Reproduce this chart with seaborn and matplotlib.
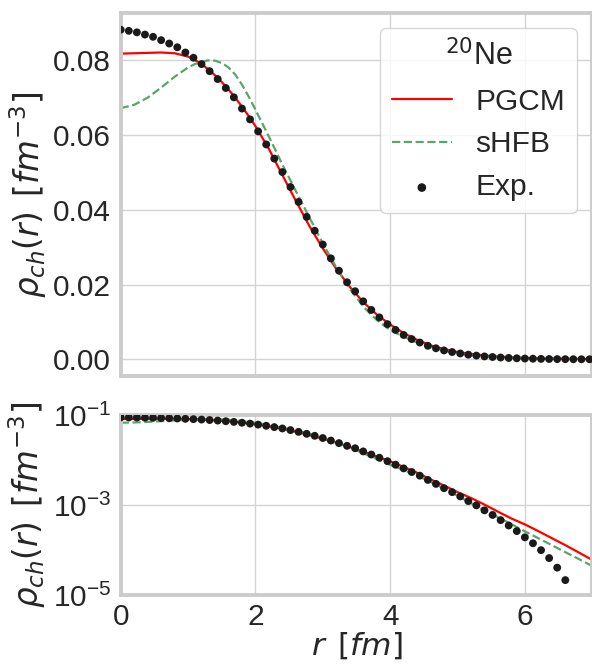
import numpy as np
import pandas as pd
import matplotlib
matplotlib.use("Agg")
import matplotlib.pyplot as plt
import seaborn as sns

# ---------------- data ----------------
r_th = [0.0, 0.2, 0.4, 0.6, 0.8, 1.0, 1.1, 1.2, 1.3, 1.4, 1.5, 1.6, 1.7, 1.8, 1.9,
        2.0, 2.2, 2.4, 2.6, 2.8, 3.0, 3.2, 3.4, 3.6, 3.8, 4.0, 4.2, 4.4, 4.6, 4.8,
        5.0, 5.2, 5.4, 5.6, 5.8, 6.0, 6.2, 6.4, 6.6, 6.8, 7.0]

pgcm = [0.0818, 0.0819, 0.0820, 0.0821, 0.0819, 0.0810, 0.0801, 0.0790, 0.0776, 0.0760,
        0.0742, 0.0722, 0.0700, 0.0676, 0.0651, 0.0624, 0.0563, 0.0493, 0.0424, 0.0357,
        0.0297, 0.0242, 0.0194, 0.0153, 0.0120, 0.0093, 0.0070, 0.0052, 0.00371, 0.00270,
        0.00193, 0.00143, 0.00102, 0.00071, 0.00050, 0.00037, 0.000262, 0.000183,
        0.000128, 0.000088, 0.000060]

shfb = [0.0672, 0.0681, 0.0700, 0.0727, 0.0756, 0.0781, 0.0790, 0.0796, 0.0800, 0.0799,
        0.0793, 0.0781, 0.0762, 0.0735, 0.0703, 0.0668, 0.0596, 0.0521, 0.0450, 0.0380,
        0.0310, 0.0246, 0.0189, 0.0141, 0.0105, 0.0078, 0.0060, 0.00448, 0.00325, 0.00232,
        0.00160, 0.00110, 0.00076, 0.000535, 0.000375, 0.000259, 0.000182, 0.000128,
        0.0000895, 0.000063, 0.000044]

r_exp = [0.00, 0.12, 0.24, 0.36, 0.48, 0.60, 0.72, 0.84, 0.96, 1.08, 1.20, 1.32, 1.44,
         1.56, 1.68, 1.80, 1.92, 2.04, 2.16, 2.28, 2.40, 2.52, 2.64, 2.76, 2.88, 3.00,
         3.12, 3.24, 3.36, 3.48, 3.60, 3.72, 3.84, 3.96, 4.08, 4.20, 4.32, 4.44, 4.56,
         4.68, 4.80, 4.92, 5.04, 5.16, 5.28, 5.40, 5.52, 5.64, 5.76, 5.88, 6.00, 6.12,
         6.24, 6.36, 6.48, 6.60, 6.72, 6.84, 6.96]

exp = [0.0882, 0.0879, 0.0875, 0.0869, 0.0863, 0.0854, 0.0845, 0.0835, 0.0821, 0.0807,
       0.0790, 0.0771, 0.0750, 0.0726, 0.0701, 0.0671, 0.0642, 0.0610, 0.0575, 0.0537,
       0.0501, 0.0461, 0.0421, 0.0381, 0.0344, 0.0307, 0.0270, 0.0237, 0.0206, 0.0182,
       0.0155, 0.0132, 0.0112, 0.0094, 0.00785, 0.0065, 0.0054, 0.00448, 0.00360,
       0.00294, 0.00236, 0.00193, 0.00155, 0.00122, 0.00098, 0.00076, 0.00060, 0.00046,
       0.00035, 0.000263, 0.000191, 0.000141, 0.0000991, 0.0000661, 0.0000405,
       0.0000214, 0.000008, 0.000003, 0.000001]

log_ticks = [1e-5, 1e-3, 1e-1]
x_ticks = [0, 2, 4, 6]

# ---------------- style ----------------
sns.set_style("whitegrid")
plt.rcParams["font.family"] = ["Liberation Sans", "DejaVu Sans"]
plt.rcParams["axes.edgecolor"] = ".8"
plt.rcParams["axes.linewidth"] = 2.8
plt.rcParams["grid.color"] = ".83"
plt.rcParams["grid.linewidth"] = 1.0
plt.rcParams["text.color"] = ".15"
plt.rcParams["axes.labelcolor"] = ".15"
plt.rcParams["xtick.color"] = ".15"
plt.rcParams["ytick.color"] = ".15"

fig = plt.figure(figsize=(5.92, 6.65), dpi=100)
ax1 = fig.add_axes([0.2039, 0.4350, 0.7965, 0.5451])
ax2 = fig.add_axes([0.2039, 0.1053, 0.7965, 0.2707], sharex=ax1)

df_th = pd.DataFrame({"r": r_th, "PGCM": pgcm, "sHFB": shfb})
df_exp = pd.DataFrame({"r": r_exp, "Exp.": exp})

for ax in (ax1, ax2):
    sns.lineplot(data=df_th, x="r", y="PGCM", ax=ax, color="red", lw=1.6,
                 label="PGCM", legend=False, zorder=2)
    sns.lineplot(data=df_th, x="r", y="sHFB", ax=ax, color="#55a868", lw=1.6,
                 linestyle="--", label="sHFB", legend=False, zorder=2)
    sns.scatterplot(data=df_exp, x="r", y="Exp.", ax=ax, color="#1a1a1a", s=32,
                    edgecolor="none", label="Exp.", legend=False, zorder=3)
    ax.tick_params(axis="y", labelsize=21.5, pad=7, length=0)
    ax.tick_params(axis="x", labelsize=21.5, pad=5.5, length=0)
    for sp in ax.spines.values():
        sp.set_linewidth(2.8)
        sp.set_color(".8")

ylab = r"$\rho_{ch}(r)$ $\,[fm^{-3}]$"

ax1.set_xlim(0, 7)
ax1.set_xticks(x_ticks)
ax1.tick_params(labelbottom=False)
ax1.set_xlabel("")
ax1.set_ylabel(ylab, fontsize=23.5, labelpad=3)

ax2.set_yscale("log")
ax2.set_ylim(1e-5, 1e-1)
ax2.set_yticks(log_ticks)
ax2.yaxis.set_minor_locator(matplotlib.ticker.NullLocator())
ax2.set_xlabel(r"$r$ $\,[fm]$", fontsize=22.5, labelpad=0)
ax2.set_ylabel(ylab, fontsize=23.5, labelpad=3)

fig.align_ylabels([ax1, ax2])

leg = ax1.legend(title=r"$^{20}$Ne", fontsize=21.5, title_fontsize=22,
                 loc="upper right", frameon=True, markerscale=1.1)
leg.get_frame().set_edgecolor(".8")

fig.savefig("out.png", dpi=100)
